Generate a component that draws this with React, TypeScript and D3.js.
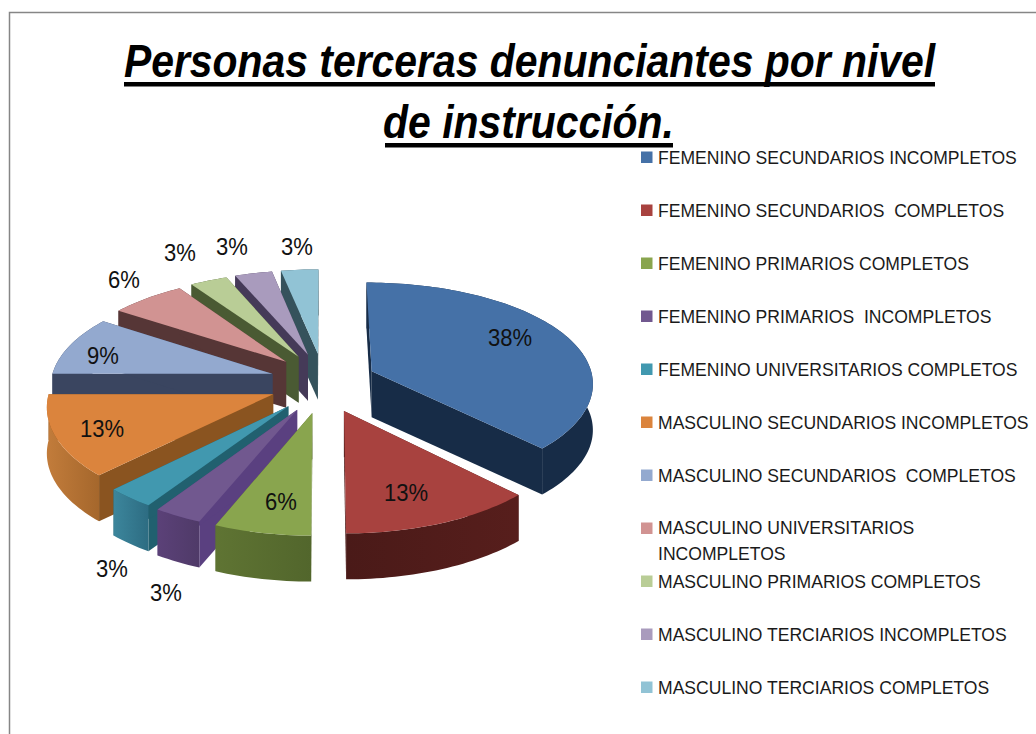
import React from "react";
import * as d3 from "d3";

const categories = [
  "FEMENINO SECUNDARIOS INCOMPLETOS",
  "FEMENINO SECUNDARIOS  COMPLETOS",
  "FEMENINO PRIMARIOS COMPLETOS",
  "FEMENINO PRIMARIOS  INCOMPLETOS",
  "FEMENINO UNIVERSITARIOS COMPLETOS",
  "MASCULINO SECUNDARIOS INCOMPLETOS",
  "MASCULINO SECUNDARIOS  COMPLETOS",
  "MASCULINO UNIVERSITARIOS\nINCOMPLETOS",
  "MASCULINO PRIMARIOS COMPLETOS",
  "MASCULINO TERCIARIOS INCOMPLETOS",
  "MASCULINO TERCIARIOS COMPLETOS",
];
const values = [12, 4, 2, 1, 1, 4, 3, 2, 1, 1, 1];
const titleLines = ["Personas terceras denunciantes por nivel", "de instrucción."];

const faceColors = ["#4571a7", "#a8423f", "#89a54e", "#71588f", "#4198af", "#db843d", "#93a9cf", "#d19392", "#b9cd96", "#a99bbd", "#91c3d5"];
const edgeColors = ["#172c47", "#4a1a18", "#5a6e30", "#5a4080", "#21606f", "#8a5420", "#3a4560", "#563636", "#4a5a33", "#453a58", "#35525c"];
const rimStart = ["#172c47", "#4a1a18", "#52662c", "#4f3a68", "#2d6c82", "#a5672c", "#3a4560", "#563636", "#4a5a33", "#453a58", "#35525c"];
const rimEnd = ["#172c47", "#571e1c", "#5f7433", "#5b4178", "#3c869c", "#c27c3b", "#3a4560", "#563636", "#4a5a33", "#453a58", "#35525c"];
const labelAnchors: [number, number][] = [[510, 338], [406, 493], [281, 502], [166, 593], [112, 569], [102, 429], [103, 356], [124, 280], [180, 253], [232, 247], [297, 247]];

const W = 1036, H = 734;
const CX = 323, CY = 382.5, R = 222;
const YA = 103.5, YB = 12.2, XQ = 0.105;
const EXPLODE_U = 0.24, EXPLODE_V = 0.29, DEPTH = 46;

const project = (u: number, v: number): [number, number] => [
  CX + R * u * (1 + XQ * v),
  CY + YA * v + YB * v * v,
];

const line = d3.line();
const pieGen = d3.pie<number>().sort(null).value((d) => d);
const total = d3.sum(values);
const pct = (v: number) => `${Math.round((v / total) * 100)}%`;

const LEG_SX = 0.95;

export default function App() {
  const arcs = pieGen(values).map((a, i) => {
    const mid = (a.startAngle + a.endAngle) / 2;
    const ou = EXPLODE_U * Math.sin(mid);
    const ov = -EXPLODE_V * Math.cos(mid);
    const n = Math.max(4, Math.ceil((a.endAngle - a.startAngle) * 40));
    const angles = d3.range(n + 1).map((k) => a.startAngle + ((a.endAngle - a.startAngle) * k) / n);
    const rim = angles.map((t) => project(ou + Math.sin(t), ov - Math.cos(t)));
    const apex = project(ou, ov);
    return { i, mid, rim, apex };
  });
  const order = [...arcs].sort((p, q) => d3.ascending(-Math.cos(p.mid), -Math.cos(q.mid)));
  const down = (p: [number, number]): [number, number] => [p[0], p[1] + DEPTH];

  return (
    <svg width={W} height={H} style={{ position: "absolute", left: 0, top: 0, background: "#fff" }} fontFamily="'Liberation Sans', Arial, sans-serif">
      <defs>
        {arcs.map((s) => {
          const xs = s.rim.map((p) => p[0]);
          return (
            <linearGradient key={s.i} id={`rim${s.i}`} gradientUnits="userSpaceOnUse" x1={d3.min(xs)} x2={d3.max(xs)} y1={0} y2={0}>
              <stop offset="0" stopColor={s.mid > Math.PI ? rimEnd[s.i] : rimStart[s.i]} />
              <stop offset="1" stopColor={s.mid > Math.PI ? rimStart[s.i] : rimEnd[s.i]} />
            </linearGradient>
          );
        })}
      </defs>
      <path d="M9.5 734V12.5H1036" fill="none" stroke="#868686" strokeWidth={1.5} />

      <g fontWeight="bold" fontStyle="italic" fill="#000" fontSize={47}>
        <g transform="translate(529.5,77) scale(0.87,1)">
          <text textAnchor="middle">{titleLines[0]}</text>
        </g>
        <rect x={124} y={82} width={811} height={4.5} />
        <g transform="translate(528.5,138) scale(0.87,1)">
          <text textAnchor="middle">{titleLines[1]}</text>
        </g>
        <rect x={385} y={143} width={288} height={4.5} />
      </g>

      {order.map((s) => {
        const first = s.rim[0];
        const last = s.rim[s.rim.length - 1];
        const wall = (p: [number, number]) => line([s.apex, p, down(p), down(s.apex)]) + "Z";
        const rimWall = line([...s.rim, ...s.rim.map(down).reverse()]) + "Z";
        return (
          <g key={s.i}>
            <path d={wall(first)} fill={edgeColors[s.i]} />
            <path d={wall(last)} fill={edgeColors[s.i]} />
            <path d={rimWall} fill={`url(#rim${s.i})`} />
            <path d={line([s.apex, ...s.rim]) + "Z"} fill={faceColors[s.i]} />
          </g>
        );
      })}

      <g fontSize={24.5} fill="#111">
        {values.map((v, i) => (
          <g key={i} transform={`translate(${labelAnchors[i][0]},${labelAnchors[i][1] + 8}) scale(0.9,1)`}>
            <text textAnchor="middle">{pct(v)}</text>
          </g>
        ))}
      </g>

      <g fontSize={18.5} fill="#1a1a1a">
        {(() => {
          const y = d3.scaleLinear().domain([0, 10]).range([157, 687]);
          return categories.map((c, i) => {
            const lines = c.split("\n");
            const yy = y(i);
            return (
              <g key={i}>
                <rect x={641} y={yy - 5.5} width={11.5} height={11.5} fill={faceColors[i]} />
                {lines.map((t, k) => (
                  <g key={k} transform={`translate(658,${lines.length > 1 ? yy - 1.5 + k * 26 + 7 : yy + 6.5}) scale(${LEG_SX},1)`}>
                    <text style={{ whiteSpace: "pre" }}>{t}</text>
                  </g>
                ))}
              </g>
            );
          });
        })()}
      </g>
    </svg>
  );
}
